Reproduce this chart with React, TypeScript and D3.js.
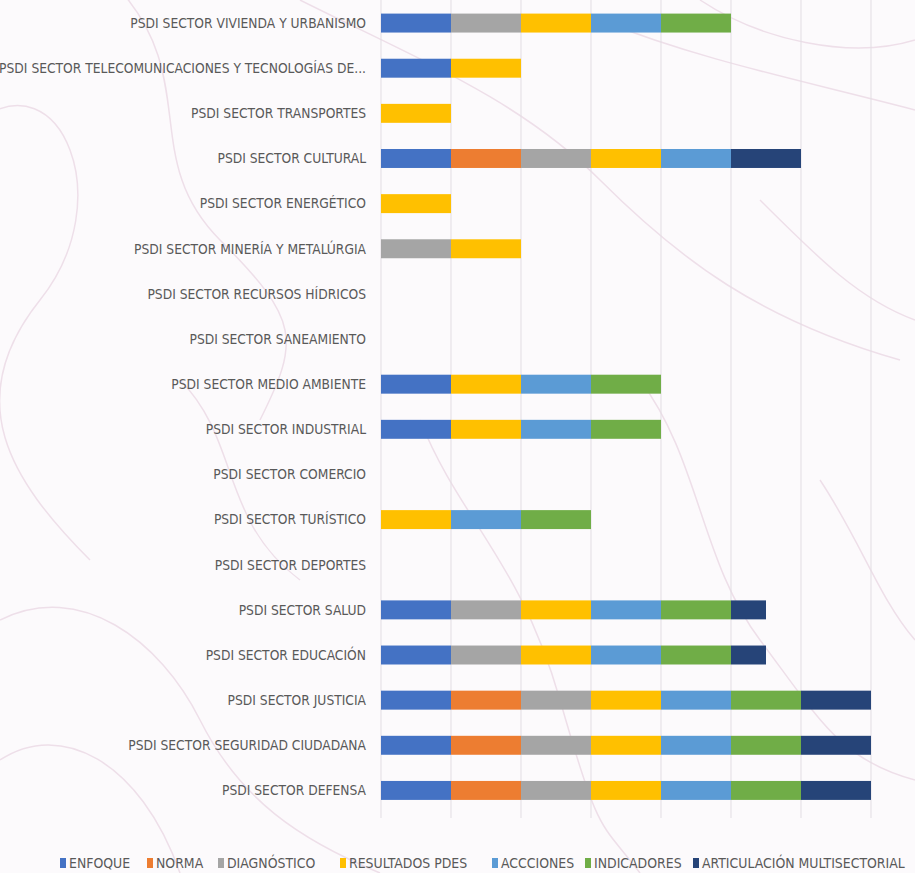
import React from "react";
import * as d3 from "d3";

const categories = [
  "PSDI SECTOR VIVIENDA Y URBANISMO",
  "PSDI SECTOR TELECOMUNICACIONES Y TECNOLOGÍAS DE...",
  "PSDI SECTOR TRANSPORTES",
  "PSDI SECTOR CULTURAL",
  "PSDI SECTOR ENERGÉTICO",
  "PSDI SECTOR MINERÍA Y METALÚRGIA",
  "PSDI SECTOR RECURSOS HÍDRICOS",
  "PSDI SECTOR SANEAMIENTO",
  "PSDI SECTOR MEDIO AMBIENTE",
  "PSDI SECTOR INDUSTRIAL",
  "PSDI SECTOR COMERCIO",
  "PSDI SECTOR TURÍSTICO",
  "PSDI SECTOR DEPORTES",
  "PSDI SECTOR SALUD",
  "PSDI SECTOR EDUCACIÓN",
  "PSDI SECTOR JUSTICIA",
  "PSDI SECTOR SEGURIDAD CIUDADANA",
  "PSDI SECTOR DEFENSA",
];

const seriesNames = [
  "ENFOQUE",
  "NORMA",
  "DIAGNÓSTICO",
  "RESULTADOS PDES",
  "ACCCIONES",
  "INDICADORES",
  "ARTICULACIÓN MULTISECTORIAL",
];

const enfoque = [1, 1, 0, 1, 0, 0, 0, 0, 1, 1, 0, 0, 0, 1, 1, 1, 1, 1];
const norma = [0, 0, 0, 1, 0, 0, 0, 0, 0, 0, 0, 0, 0, 0, 0, 1, 1, 1];
const diagnostico = [1, 0, 0, 1, 0, 1, 0, 0, 0, 0, 0, 0, 0, 1, 1, 1, 1, 1];
const resultados = [1, 1, 1, 1, 1, 1, 0, 0, 1, 1, 0, 1, 0, 1, 1, 1, 1, 1];
const acciones = [1, 0, 0, 1, 0, 0, 0, 0, 1, 1, 0, 1, 0, 1, 1, 1, 1, 1];
const indicadores = [1, 0, 0, 0, 0, 0, 0, 0, 1, 1, 0, 1, 0, 1, 1, 1, 1, 1];
const articulacion = [0, 0, 0, 1, 0, 0, 0, 0, 0, 0, 0, 0, 0, 0.5, 0.5, 1, 1, 1];

const seriesValues = [enfoque, norma, diagnostico, resultados, acciones, indicadores, articulacion];
const colors = ["#4472C4", "#ED7D31", "#A5A5A5", "#FFC000", "#5B9BD5", "#70AD47", "#264478"];
const xTicks = [0, 1, 2, 3, 4, 5, 6, 7];

const FONT = "'DejaVu Sans Condensed', sans-serif";

export default function App() {
  const W = 915;
  const H = 873;
  const x = d3.scaleLinear().domain([0, 7]).range([381, 871]);
  const y = d3.scaleBand().domain(categories).range([0.5, 813]).paddingInner(0.58).paddingOuter(0.29);

  const table = categories.map((c, i) => {
    const row: any = { cat: c };
    seriesNames.forEach((s, j) => (row[s] = seriesValues[j][i]));
    return row;
  });
  const stacked = d3.stack().keys(seriesNames)(table);

  const legendX = [60, 147, 218, 340, 492, 585, 693];

  const bgLines = [
    "M -20 120 C 60 60, 120 200, 40 300 S 10 480, 90 560",
    "M 120 -10 C 200 80, 140 160, 220 240 S 300 340, 260 420",
    "M 300 0 C 420 60, 520 100, 600 180 S 760 320, 900 360",
    "M 600 20 C 700 60, 800 80, 915 110",
    "M 700 0 C 760 40, 850 60, 915 40",
    "M 420 420 C 460 520, 520 560, 560 700 S 600 820, 640 873",
    "M 640 380 C 700 460, 700 560, 760 640 S 840 760, 915 780",
    "M 0 620 C 80 580, 160 640, 200 720 S 300 840, 380 873",
    "M 0 760 C 60 720, 140 760, 180 873",
    "M 760 200 C 820 260, 860 300, 915 320",
    "M 180 380 C 240 440, 220 520, 300 580",
    "M 820 480 C 860 540, 880 600, 915 640",
  ];

  return (
    <svg width={W} height={H} style={{ position: "absolute", left: 0, top: 0, background: "#fdfbfd" }}>
      <rect x={0} y={0} width={W} height={H} fill="#fcfafc" />
      {bgLines.map((d, i) => (
        <path key={i} d={d} fill="none" stroke="#eedfe9" strokeWidth={1.5} />
      ))}
      {xTicks.map((t) => (
        <line key={t} x1={x(t)} x2={x(t)} y1={0} y2={818} stroke="#e2dde3" strokeWidth={1} />
      ))}
      {stacked.map((s, j) => (
        <g key={s.key} fill={colors[j]}>
          {s.map((d, i) =>
            d[1] - d[0] > 0 ? (
              <rect
                key={i}
                x={x(d[0])}
                y={y(categories[i])!}
                width={x(d[1]) - x(d[0])}
                height={y.bandwidth()}
              />
            ) : null
          )}
        </g>
      ))}
      {categories.map((c) => (
        <text
          key={c}
          x={366}
          y={y(c)! + y.bandwidth() / 2}
          dy="0.35em"
          textAnchor="end"
          fontFamily={FONT}
          fontSize={13.7}
          fill="#595959"
        >
          {c}
        </text>
      ))}
      {seriesNames.map((s, j) => (
        <g key={s} transform={`translate(${legendX[j]},863)`}>
          <rect x={0} y={-5} width={6} height={10} fill={colors[j]} />
          <text x={9} y={0} dy="0.35em" fontFamily={FONT} fontSize={13.9} fill="#595959">
            {s}
          </text>
        </g>
      ))}
    </svg>
  );
}
